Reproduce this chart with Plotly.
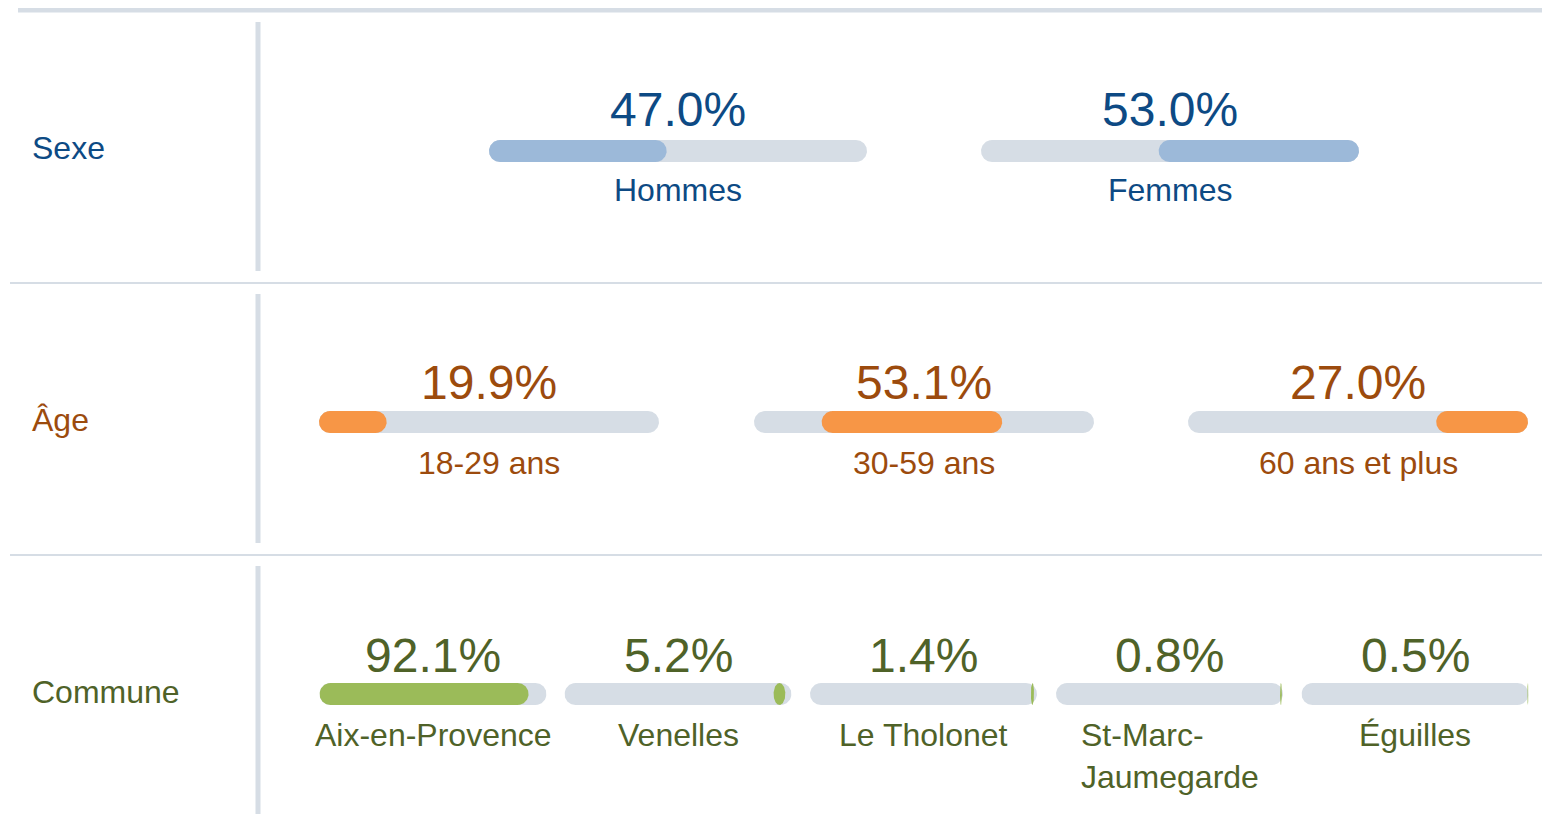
import numpy as np
import plotly.graph_objects as go
from itertools import accumulate

# ---------------- data ----------------
sections = ["Sexe", "Âge", "Commune"]

sexe_labels = ["Hommes", "Femmes"]
sexe_values = [47.0, 53.0]

age_labels = ["18-29 ans", "30-59 ans", "60 ans et plus"]
age_values = [19.9, 53.1, 27.0]

commune_labels = ["Aix-en-Provence", "Venelles", "Le Tholonet", "St-Marc-<br>Jaumegarde", "Éguilles"]
commune_values = [92.1, 5.2, 1.4, 0.8, 0.5]

# ---------------- layout / style ----------------
OFF = 8                      # default body margin of the html page
W, H = 1550 - OFF, 822 - 2 * OFF
FONT = "Arial, 'Liberation Sans', sans-serif"
GRAY = "#d6dde5"
LINE = "#d6dde5"
BAR_H = 22                   # track thickness in px

groups = [
    dict(title=sections[0], labels=sexe_labels, values=sexe_values,
         txt="#0d4a84", bar="#9cb9d9", centers=[678, 1170], bw=378,
         bar_y=151, val_y=110, lab_y=189, sec_y=148, vline=(22, 271)),
    dict(title=sections[1], labels=age_labels, values=age_values,
         txt="#9c4b0d", bar="#f79646", centers=[489, 924, 1358], bw=340,
         bar_y=422, val_y=382, lab_y=462, sec_y=420, vline=(294, 543)),
    dict(title=sections[2], labels=commune_labels, values=commune_values,
         txt="#4f6228", bar="#9bbb59", centers=[433, 678, 923.5, 1169.5, 1415], bw=227,
         bar_y=694, val_y=655, lab_y=734, sec_y=692, vline=(566, 814)),
]


def px_x(x):
    return (x - OFF) / W


def px_y(y):
    return 1 - (y - OFF) / H


def pill_outline(a, b, rx, ry, n=60):
    """outline of a rounded pill spanning [a, b] on the data axis."""
    rxe = min(rx, (b - a) / 2)
    lc, rc = a + rxe, b - rxe
    t1 = np.linspace(np.pi / 2, -np.pi / 2, n)
    t2 = np.linspace(-np.pi / 2, -3 * np.pi / 2, n)
    xs = np.concatenate([rc + rxe * np.cos(t1), lc + rxe * np.cos(t2), [rc]])
    ys = np.concatenate([ry * np.sin(t1), ry * np.sin(t2), [ry]])
    return xs, ys


fig = go.Figure()
annotations = []
shapes = []
layout_axes = {}
k = 0

for g in groups:
    ends = list(accumulate(g["values"]))
    starts = [e - v for e, v in zip(ends, g["values"])]
    rx = (BAR_H / 2) * 100 / g["bw"]       # corner radius in data units
    ry = 0.5
    for lab, val, s, e, c in zip(g["labels"], g["values"], starts, ends, g["centers"]):
        k += 1
        xa = "x" if k == 1 else f"x{k}"
        ya = "y" if k == 1 else f"y{k}"
        xkey = "xaxis" if k == 1 else f"xaxis{k}"
        ykey = "yaxis" if k == 1 else f"yaxis{k}"
        layout_axes[xkey] = dict(domain=[px_x(c - g["bw"] / 2), px_x(c + g["bw"] / 2)],
                                 range=[0, 100], visible=False, fixedrange=True, anchor=ya)
        layout_axes[ykey] = dict(domain=[px_y(g["bar_y"] + BAR_H / 2), px_y(g["bar_y"] - BAR_H / 2)],
                                 range=[-0.5, 0.5], visible=False, fixedrange=True, anchor=xa)
        # background track 0..100
        tx, ty = pill_outline(0, 100, rx, ry)
        fig.add_trace(go.Scatter(x=tx, y=ty, fill="toself", fillcolor=GRAY, mode="lines",
                                 line=dict(width=0, color=GRAY), xaxis=xa, yaxis=ya,
                                 hoverinfo="skip", showlegend=False, cliponaxis=False))
        # share, positioned at its cumulative place on the track
        fx, fy = pill_outline(s, e, rx, ry)
        fig.add_trace(go.Scatter(x=fx, y=fy, fill="toself", fillcolor=g["bar"], mode="lines",
                                 line=dict(width=0, color=g["bar"]), xaxis=xa, yaxis=ya,
                                 name=lab.replace("<br>", " "), hoveron="fills",
                                 showlegend=False, cliponaxis=False))
        # value text
        annotations.append(dict(
            x=px_x(c), y=px_y(g["val_y"]), xref="paper", yref="paper",
            text=f"{val:.1f}%", showarrow=False, xanchor="center", yanchor="middle",
            font=dict(family=FONT, size=48, color=g["txt"])))
        # category label
        annotations.append(dict(
            x=px_x(c), y=px_y(g["lab_y"] - 19), xref="paper", yref="paper",
            text=lab, showarrow=False, xanchor="center", yanchor="top", align="left",
            font=dict(family=FONT, size=32, color=g["txt"])))
    # section title
    annotations.append(dict(
        x=px_x(30), y=px_y(g["sec_y"]), xref="paper", yref="paper",
        text=g["title"], showarrow=False, xanchor="left", yanchor="middle",
        font=dict(family=FONT, size=32, color=g["txt"])))
    # vertical divider
    shapes.append(dict(type="line", xref="paper", yref="paper",
                       x0=px_x(258), x1=px_x(258),
                       y0=px_y(g["vline"][0]), y1=px_y(g["vline"][1]),
                       line=dict(color=LINE, width=5)))

# horizontal rules
shapes.append(dict(type="line", xref="paper", yref="paper",
                   x0=px_x(18), x1=px_x(1550), y0=px_y(10), y1=px_y(10),
                   line=dict(color=LINE, width=5)))
for yy in (283, 555):
    shapes.append(dict(type="line", xref="paper", yref="paper",
                       x0=px_x(10), x1=px_x(1550), y0=px_y(yy), y1=px_y(yy),
                       line=dict(color=LINE, width=2)))

fig.update_layout(
    width=W, height=H, margin=dict(l=0, r=0, t=0, b=0),
    paper_bgcolor="white", plot_bgcolor="rgba(0,0,0,0)",
    annotations=annotations, shapes=shapes,
    font=dict(family=FONT),
    **layout_axes,
)

fig.write_html("out.html", default_width=f"{W}px", default_height=f"{H}px")
